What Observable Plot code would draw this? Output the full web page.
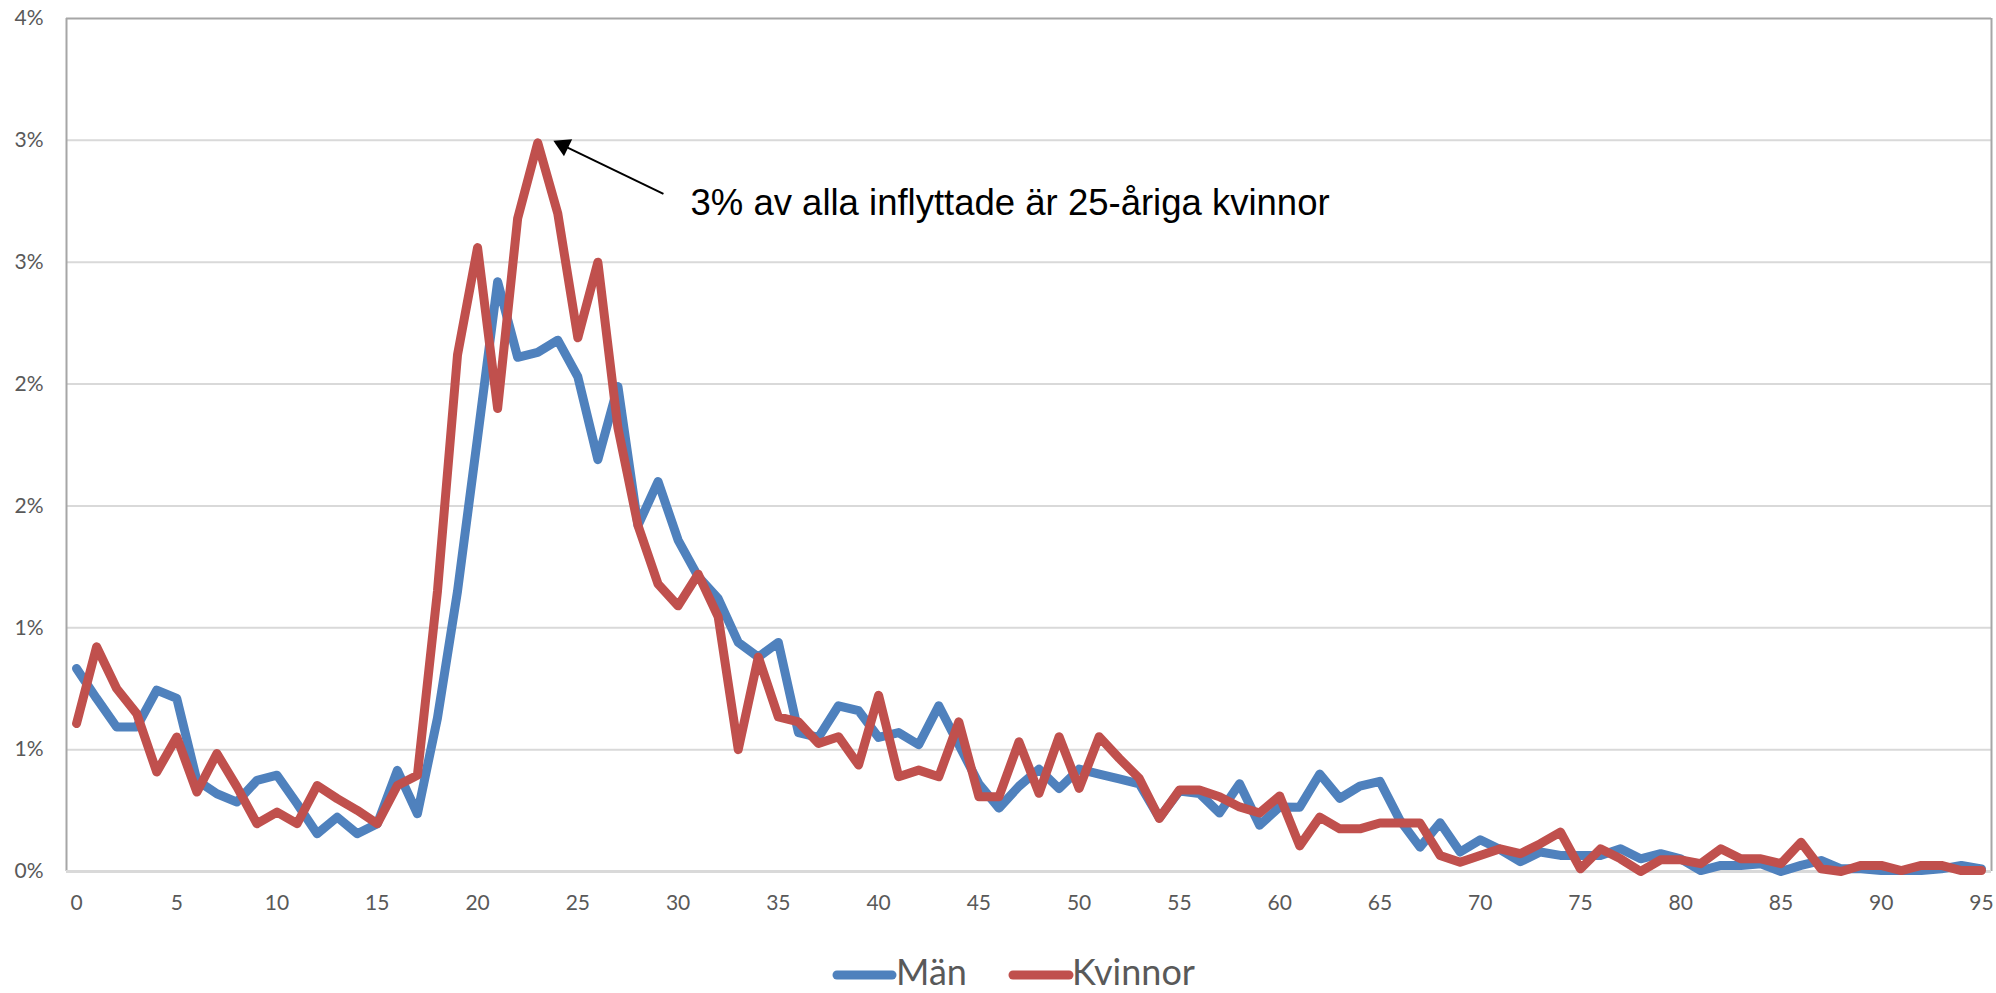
<!DOCTYPE html>
<html>
<head>
<meta charset="utf-8">
<script src="https://cdn.jsdelivr.net/npm/d3@7"></script>
<script src="https://cdn.jsdelivr.net/npm/@observablehq/plot@0.6"></script>
<style>
  html, body { margin: 0; padding: 0; background: #ffffff; }
  #chart { width: 1996px; height: 993px; overflow: hidden; position: relative; }
  #legend { display: block; }
</style>
</head>
<body>
<div id="chart"></div>
<script>
// ---- Data (share of all in-movers, percent, by age 0..95) ----
const ages = d3.range(0, 96);

const man = [
  0.833, 0.71, 0.593, 0.593, 0.744, 0.71, 0.374, 0.319, 0.285, 0.374,
  0.395, 0.278, 0.155, 0.223, 0.155, 0.196, 0.415, 0.237, 0.63, 1.15,
  1.78, 2.42, 2.11, 2.13, 2.18, 2.03, 1.69, 1.99, 1.42, 1.60,
  1.36, 1.21, 1.12, 0.94, 0.88, 0.94, 0.57, 0.55, 0.68, 0.66,
  0.55, 0.57, 0.52, 0.68, 0.52, 0.36, 0.26, 0.35, 0.42, 0.34,
  0.42, 0.40, 0.38, 0.36, 0.22, 0.33, 0.32, 0.24, 0.36, 0.19,
  0.265, 0.264, 0.40, 0.30, 0.35, 0.37, 0.21, 0.10, 0.20, 0.08,
  0.13, 0.09, 0.04, 0.08, 0.066, 0.066, 0.066, 0.093, 0.052, 0.073,
  0.052, 0.004, 0.025, 0.025, 0.032, 0.0, 0.025, 0.045, 0.011, 0.011,
  0.004, 0.004, 0.004, 0.011, 0.025, 0.011
];

const kvinnor = [
  0.607, 0.922, 0.751, 0.648, 0.408, 0.552, 0.326, 0.484, 0.347, 0.196,
  0.244, 0.196, 0.353, 0.299, 0.251, 0.196, 0.353, 0.395, 1.15, 2.12,
  2.56, 1.90, 2.68, 2.99, 2.70, 2.19, 2.50, 1.82, 1.42, 1.18,
  1.09, 1.22, 1.045, 0.50, 0.88, 0.634, 0.614, 0.525, 0.553, 0.437,
  0.723, 0.389, 0.416, 0.389, 0.614, 0.307, 0.307, 0.532, 0.321, 0.553,
  0.341, 0.553, 0.464, 0.382, 0.218, 0.334, 0.334, 0.307, 0.265, 0.24,
  0.31, 0.105, 0.223, 0.175, 0.175, 0.199, 0.199, 0.199, 0.066, 0.038,
  0.066, 0.093, 0.073, 0.114, 0.162, 0.011, 0.093, 0.052, 0.0, 0.048,
  0.048, 0.032, 0.093, 0.052, 0.052, 0.032, 0.12, 0.011, 0.0, 0.025,
  0.025, 0.004, 0.025, 0.025, 0.004, 0.004
];

const seriesNames = ["Män", "Kvinnor"];
const seriesColors = ["#4f81bd", "#c0504d"];

const xTicks = d3.range(0, 96, 5);
const yTicks = [0, 0.5, 1, 1.5, 2, 2.5, 3, 3.5];
const yTickLabels = ["0%", "1%", "1%", "2%", "2%", "3%", "3%", "4%"];

const xDomain = [-0.5, 95.5];
const yDomain = [0, 3.5];

// Annotation (data coordinates)
const annotationText = "3% av alla inflyttade är 25-åriga kvinnor";
const arrowTip = {x: 24.0, y: 2.99};
const arrowTail = {x: 29.27, y: 2.78};
const textAnchorPt = {x: 30.62, y: 2.74};

// ---- Build table ----
const rows = [];
ages.forEach((a, i) => {
  rows.push({age: a, value: man[i], serie: seriesNames[0]});
});
ages.forEach((a, i) => {
  rows.push({age: a, value: kvinnor[i], serie: seriesNames[1]});
});

const W = 1996, H = 945;
const mL = 66, mR = 5, mT = 18, mB = 74;

// arrow direction in pixels for head rotation
const pxPerX = (W - mL - mR) / (xDomain[1] - xDomain[0]);
const pxPerY = (H - mT - mB) / (yDomain[1] - yDomain[0]);
const ddx = (arrowTip.x - arrowTail.x) * pxPerX;
const ddy = -(arrowTip.y - arrowTail.y) * pxPerY;
const ang = Math.atan2(ddy, ddx) * 180 / Math.PI;
const headRotate = ang + 90;
const ux = ddx / Math.hypot(ddx, ddy), uy = ddy / Math.hypot(ddx, ddy);

const plot = Plot.plot({
  width: W,
  height: H,
  marginLeft: mL,
  marginRight: mR,
  marginTop: mT,
  marginBottom: mB,
  style: {fontFamily: "Lato, 'Open Sans', sans-serif", fontSize: "21px", color: "#595959", background: "#ffffff", overflow: "visible"},
  x: {domain: xDomain},
  y: {domain: yDomain},
  marks: [
    Plot.ruleY(yTicks.slice(1, -1), {stroke: "#d9d9d9", strokeWidth: 2}),
    Plot.ruleX([xDomain[0], xDomain[1]], {stroke: "#a6a6a6", strokeWidth: 2}),
    Plot.ruleY([yDomain[1]], {stroke: "#a6a6a6", strokeWidth: 2}),
    Plot.ruleY([0], {stroke: "#d9d9d9", strokeWidth: 3}),
    Plot.axisX(xTicks, {tickSize: 0, tickPadding: 24, tickFormat: d => String(d), fill: "#595959", fontSize: 21}),
    Plot.axisY(yTicks, {tickSize: 0, tickPadding: 23, tickFormat: d => yTickLabels[yTicks.indexOf(d)], fill: "#595959", fontSize: 21}),
    Plot.line(rows.filter(d => d.serie === seriesNames[0]), {
      x: "age", y: "value", stroke: seriesColors[0], strokeWidth: 9,
      strokeLinejoin: "round", strokeLinecap: "round"
    }),
    Plot.line(rows.filter(d => d.serie === seriesNames[1]), {
      x: "age", y: "value", stroke: seriesColors[1], strokeWidth: 9,
      strokeLinejoin: "round", strokeLinecap: "round"
    }),
    Plot.link([{}], {
      x1: () => arrowTail.x, y1: () => arrowTail.y,
      x2: () => arrowTip.x, y2: () => arrowTip.y,
      stroke: "#000000", strokeWidth: 2
    }),
    Plot.dot([arrowTip], {
      x: "x", y: "y", symbol: "triangle", r: 7, fill: "#000000", stroke: "none",
      rotate: headRotate, dx: -ux * 6, dy: -uy * 6
    }),
    Plot.text([textAnchorPt], {
      x: "x", y: "y", text: () => annotationText, textAnchor: "start",
      lineAnchor: "middle", fontSize: 36.5, fill: "#000000",
      fontFamily: "'Liberation Sans', Arial, sans-serif"
    })
  ]
});

const chart = document.getElementById("chart");
chart.appendChild(plot);

// Legend (below the plot SVG)
const legendH = 48;
const ns = "http://www.w3.org/2000/svg";
const leg = document.createElementNS(ns, "svg");
leg.setAttribute("id", "legend");
leg.setAttribute("width", W);
leg.setAttribute("height", legendH);
const legendItems = [
  {name: seriesNames[0], color: seriesColors[0], x0: 837, x1: 892, tx: 896},
  {name: seriesNames[1], color: seriesColors[1], x0: 1013, x1: 1069, tx: 1072}
];
legendItems.forEach(it => {
  const ln = document.createElementNS(ns, "line");
  ln.setAttribute("x1", it.x0); ln.setAttribute("x2", it.x1);
  ln.setAttribute("y1", 30); ln.setAttribute("y2", 30);
  ln.setAttribute("stroke", it.color); ln.setAttribute("stroke-width", 9);
  ln.setAttribute("stroke-linecap", "round");
  leg.appendChild(ln);
  const tx = document.createElementNS(ns, "text");
  tx.setAttribute("x", it.tx); tx.setAttribute("y", 40);
  tx.setAttribute("fill", "#595959");
  tx.setAttribute("font-family", "Lato, 'Open Sans', sans-serif");
  tx.setAttribute("font-size", 36);
  tx.textContent = it.name;
  leg.appendChild(tx);
});
chart.appendChild(leg);
</script>
</body>
</html>
